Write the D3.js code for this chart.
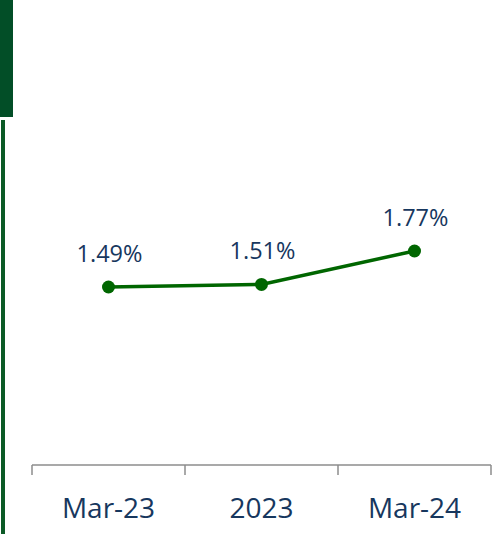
<!DOCTYPE html>
<html><head><meta charset="utf-8">
<script src="https://cdn.jsdelivr.net/npm/d3@7"></script>
<style>body{margin:0;background:#fff}svg{display:block}</style>
</head><body>
<svg id="c" width="500" height="534"></svg>
<script>
const categories = ["Mar-23", "2023", "Mar-24"];
const values = [1.49, 1.51, 1.77];
const labels = ["1.49%", "1.51%", "1.77%"];

const svg = d3.select("#c");
// decorative side bar
svg.append("rect").attr("x",0).attr("y",0).attr("width",13).attr("height",117).attr("fill","#024E27");
svg.append("rect").attr("x",1).attr("y",120).attr("width",4).attr("height",414).attr("fill","#0B5A26");

const x = d3.scaleBand().domain(categories).range([32,491]).paddingInner(0).paddingOuter(0);
const y = d3.scaleLinear().domain([1.0, 2.0]).range([350, 221.4]);
const cx = d => x(d) + x.bandwidth()/2;

// axis
const axisY = 465;
svg.append("line").attr("x1",32).attr("x2",491).attr("y1",axisY).attr("y2",axisY).attr("stroke","#8c8c8c").attr("stroke-width",1.5);
const tickPos = categories.map(c => x(c)).concat([x(categories[categories.length-1]) + x.bandwidth()]);
svg.selectAll(".tk").data(tickPos).enter().append("line")
  .attr("x1",d=>d).attr("x2",d=>d).attr("y1",axisY).attr("y2",axisY+10)
  .attr("stroke","#8c8c8c").attr("stroke-width",1.5);
svg.selectAll(".xl").data(categories).enter().append("text")
  .attr("x",d=>cx(d)).attr("y",518).attr("text-anchor","middle")
  .attr("font-family","Open Sans, sans-serif").attr("font-size",28).attr("fill","#17375E")
  .text(d=>d);

const line = d3.line().x((d,i)=>cx(categories[i])).y(d=>y(d));
svg.append("path").datum(values).attr("d",line).attr("fill","none").attr("stroke","#006600").attr("stroke-width",3.5);
svg.selectAll(".pt").data(values).enter().append("circle")
  .attr("cx",(d,i)=>cx(categories[i])).attr("cy",d=>y(d)).attr("r",6.5).attr("fill","#006600");
svg.selectAll(".dl").data(values).enter().append("text")
  .attr("x",(d,i)=>cx(categories[i])+1).attr("y",d=>y(d)-25).attr("text-anchor","middle")
  .attr("font-family","Open Sans, sans-serif").attr("font-size",23.5).attr("fill","#17375E")
  .text((d,i)=>labels[i]);
</script>
</body></html>
